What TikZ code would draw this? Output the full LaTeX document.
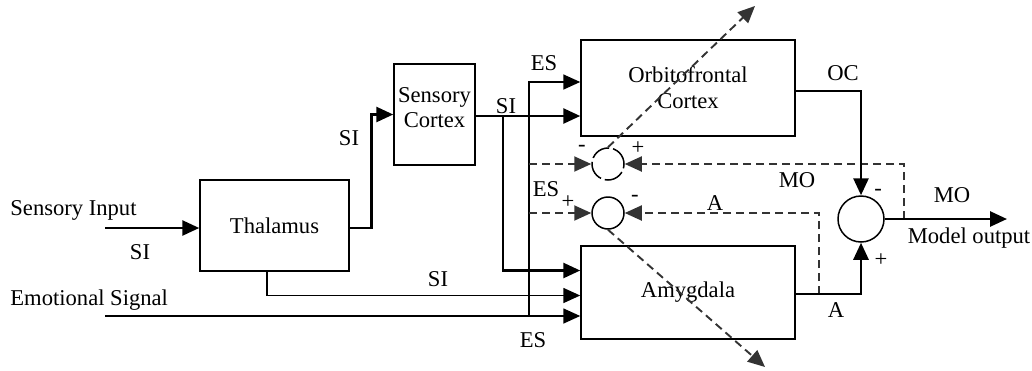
\documentclass[tikz,border=0pt]{standalone}
\usepackage{fontspec}
\setmainfont{Liberation Serif}
\usetikzlibrary{arrows.meta,calc}
\begin{document}
\begin{tikzpicture}[x=0.5pt,y=-0.5pt,
  font=\fontsize{11.3}{13}\selectfont,
  box/.style={draw,line width=0.75pt,inner sep=0pt,align=center},
  thk/.style={line width=1.35pt},
  thn/.style={line width=0.85pt},
  dsh/.style={line width=0.95pt,draw=black!80,dash pattern=on 4pt off 2.5pt},
  tri/.tip={Triangle[length=8.5pt,width=7.5pt]},
  lbl/.style={inner sep=0pt}]
\useasboundingbox (0,0) rectangle (1032,370);
% blocks
\node[box,minimum width=74.5pt,minimum height=45.5pt] (thal) at (274.5,225.5) {Thalamus};
\node[box,minimum width=40.5pt,minimum height=50.5pt] (sc) at (434.5,114.5) {Sensory\\[-0.5pt]Cortex\\[-6pt]};
\node[box,minimum width=107pt,minimum height=48pt] (ofc) at (688,88) {Orbitofrontal\\Cortex};
\node[box,minimum width=107pt,minimum height=46.5pt] (amy) at (688,292.5) {Amygdala};
\node[draw,circle,line width=0.75pt,minimum size=16pt,inner sep=0pt,dash pattern=on 10pt off 2pt] (c1) at (608,164) {};
\node[draw,circle,line width=0.75pt,minimum size=16pt,inner sep=0pt] (c2) at (608,213) {};
\node[draw,circle,line width=0.75pt,minimum size=23pt,inner sep=0pt] (sum) at (861,219) {};
% coordinates
\coordinate (siin) at (105,228);
\coordinate (esin) at (105,316);
\coordinate (j1) at (503,116);
\coordinate (j2) at (529,316);
\coordinate (j3) at (904,219);
\coordinate (j4) at (819,294);
\coordinate (out) at (1007,219);
\coordinate (up) at (755,6);
\coordinate (down) at (765,367);
% connectors
\draw[thk,-tri] (siin) -- (siin -| thal.west);
\draw[thk,-tri] (siin -| thal.east) -- ++(22,0) |- (sc.west);
\draw[thk,-tri] (j1 -| sc.east) -- (j1 -| ofc.west);
\draw[thk,-tri] (j1) |- ($(amy.west)+(0,-22)$);
\draw[thn,-tri] ($(thal.south)+(-7.5,0)$) |- ($(amy.west)+(0,3)$);
\draw[thn,-tri] (esin) -- (esin -| amy.west);
\draw[thn,-tri] (j2) |- ($(ofc.west)+(0,-6)$);
\draw[dsh,-tri] (j2 |- c1.west) -- (c1.west);
\draw[dsh,-tri] (j2 |- c2.west) -- (c2.west);
\draw[dsh,-tri] (j3) |- (c1.east);
\draw[dsh,-tri] (j4) |- (c2.east);
\draw[thk,-tri] (j4 -| amy.east) -| (sum.south);
\draw[thk,-tri] ($(ofc.east)+(0,3)$) -| (sum.north);
\draw[thk,-tri] (sum.east) -- (out);
\draw[dsh,-tri] (c1.north) -- (up);
\draw[dsh,-tri] (c2.south) -- (down);
% labels
\node[lbl,anchor=west] (l1) at (10,210) {Sensory Input};
\node[lbl] (l2) at (140,252) {SI};
\node[lbl,anchor=west] (l3) at (10,300) {Emotional Signal};
\node[lbl] (l4) at (349,138) {SI};
\node[lbl] (l5) at (438,279) {SI};
\node[lbl] (l6) at (544,63) {ES};
\node[lbl] (l7) at (506,106) {SI};
\node[lbl] (l8) at (546,189) {ES};
\node[lbl] (l9) at (533,340) {ES};
\node[lbl] (l10) at (582,148) {-};
\node[lbl] (l11) at (638,148) {+};
\node[lbl] (l12) at (568,202) {+};
\node[lbl] (l13) at (635,198) {-};
\node[lbl] (l14) at (797,180) {MO};
\node[lbl] (l15) at (715,203) {A};
\node[lbl] (l16) at (843,73) {OC};
\node[lbl] (l17) at (952,195) {MO};
\node[lbl] (l18) at (969,238) {Model output};
\node[lbl] (l19) at (878,192) {-};
\node[lbl] (l20) at (881,260) {+};
\node[lbl] (l21) at (836,310) {A};
\end{tikzpicture}
\end{document}
